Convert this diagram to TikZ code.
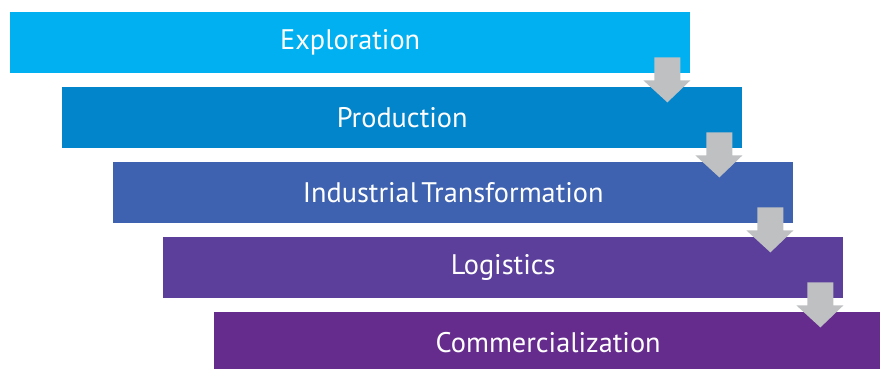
\documentclass[tikz,border=0pt]{standalone}
\usepackage{fontspec}
\setmainfont{PT Sans}
\definecolor{cA}{HTML}{00B0F0}
\definecolor{cB}{HTML}{0385CB}
\definecolor{cC}{HTML}{3E62B0}
\definecolor{cD}{HTML}{5B3F9B}
\definecolor{cE}{HTML}{652C8D}
\definecolor{arr}{HTML}{BFC0C2}
\begin{document}
\begin{tikzpicture}[x=1pt,y=-1pt,
  stage/.style={fill=#1,draw=none,inner sep=0pt,minimum width=680pt,minimum height=61pt,
    text=white,font=\fontsize{28.3}{30}\selectfont},
  downarrow/.style={fill=arr,draw=none}]
\useasboundingbox (0,0) rectangle (880,369);
\node[stage=cA,anchor=north west] (s1) at (10,12) {Exploration};
\node[stage=cB,anchor=north west] (s2) at (62,87) {Production};
\node[stage=cC,anchor=north west] (s3) at (113,162) {Industrial\kern0.12em Transformation};
\node[stage=cD,anchor=north west] (s4) at (163,237) {Logistics};
\node[stage=cE,anchor=north west] (s5) at (214,312) {\kern-12pt Commercialization};
\foreach \a/\b in {s1/s2,s2/s3,s3/s4,s4/s5}{
  \fill[downarrow] ([shift={(-36,-16)}]\a.south east) -- ([shift={(-10,-16)}]\a.south east)
    -- ([shift={(-10,7)}]\a.south east) -- ([shift={(0,7)}]\a.south east)
    -- ([shift={(-23,29)}]\a.south east) -- ([shift={(-47,7)}]\a.south east)
    -- ([shift={(-36,7)}]\a.south east) -- cycle;
}
\end{tikzpicture}
\end{document}
